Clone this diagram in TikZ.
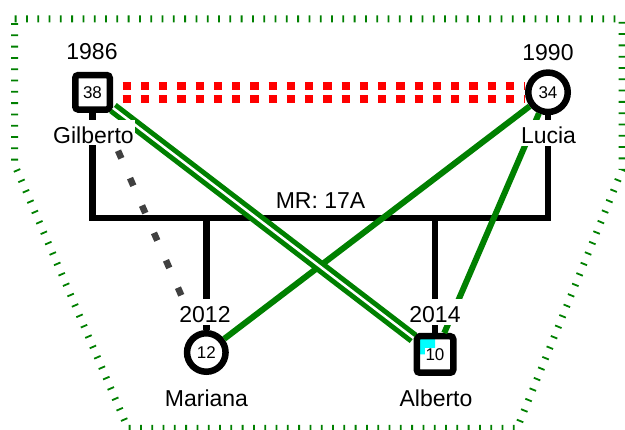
\documentclass[tikz,border=0pt]{standalone}
\usepackage{fontspec}
\setmainfont{Liberation Sans}
\definecolor{gr}{RGB}{0,128,0}
\definecolor{dg}{RGB}{64,64,64}
\definecolor{cy}{RGB}{0,255,255}
\definecolor{rd}{RGB}{255,0,0}
\begin{document}
\begin{tikzpicture}[x=1pt,y=-1pt,
  big/.style={font=\fontsize{23}{27}\selectfont},
  lbl/.style={big, fill=white, inner sep=1.5pt, anchor=base, text height=22pt},
  num/.style={font=\fontsize{17}{20}\selectfont},
  male/.style={draw, line width=6.5pt, fill=white, rounded corners=3pt, rectangle,
    minimum size=#1, inner sep=0pt, num},
  female/.style={draw, line width=6.5pt, fill=white, circle,
    minimum size=#1, inner sep=0pt, num},
  fam/.style={draw=black, line width=6.5pt},
  grl/.style={draw=gr, line width=6pt},
  outline/.style={draw=gr, line width=7pt, dash pattern=on 1.8pt off 9.5pt},
]
\useasboundingbox (0,0) rectangle (625,430);

% outline
\draw[outline] (14.7,19) -- (622,19) -- (622,170) -- (517,428.5) -- (128,428.5) -- (14.7,165) -- cycle;

% person shapes
\node[male=34.5pt] (G) at (92.5,92.3) {38};
\node[female=39.5pt] (L) at (548,92.3) {34};
\node[female=38.5pt] (M) at (206.3,352.5) {12};
\node[male=36.5pt, path picture={\fill[cy] (path picture bounding box.north west) rectangle (path picture bounding box.center);}]
  (A) at (435,354.5) {\setlength\fboxsep{0.8pt}\colorbox{white}{10}};

% family lines
\coordinate (mL) at (92.5,218);
\coordinate (mR) at (548,218);
\coordinate (c1) at (206.3,218);
\coordinate (c2) at (435,218);
\draw[fam] (G) -- (mL) -- (mR) -- (L);
\draw[fam] (c1) -- (M);
\draw[fam] (c2) -- (A);

% gray dashed
\draw[draw=dg, line width=6.5pt, dash pattern=on 8.3pt off 21.6pt, dash phase=18.4pt] (G) -- (M);

% green lines
\draw[grl] (M) -- (L);
\draw[grl] (A) -- (L);
\draw[draw=gr, line width=5pt, double=white, double distance=2.5pt] (G) -- (A);

% red dotted double
\draw[rd, line width=8.3pt, dash pattern=on 8.3pt off 9.95pt, dash phase=8.75pt]
  ([yshift=6.5pt]G.east) -- ([yshift=6.5pt]L.west);
\draw[rd, line width=8.3pt, dash pattern=on 8.3pt off 9.95pt, dash phase=8.75pt]
  ([yshift=-6.5pt]G.east) -- ([yshift=-6.5pt]L.west);

% labels
\node[lbl] (y1) at (92,60) {1986};
\node[lbl] (y2) at (548,60.5) {1990};
\node[lbl] (nG) at (93.5,143.5) {Gilberto};
\node[lbl] (nL) at (548.5,144) {Lucia};
\node[big, anchor=base, inner sep=1pt] (mr) at (320.5,209) {MR: 17A};
\node[lbl] (y3) at (205,323) {2012};
\node[lbl] (y4) at (435,323) {2014};
\node[lbl] (nM) at (206.5,407) {Mariana};
\node[lbl] (nA) at (436,407) {Alberto};
\end{tikzpicture}
\end{document}
